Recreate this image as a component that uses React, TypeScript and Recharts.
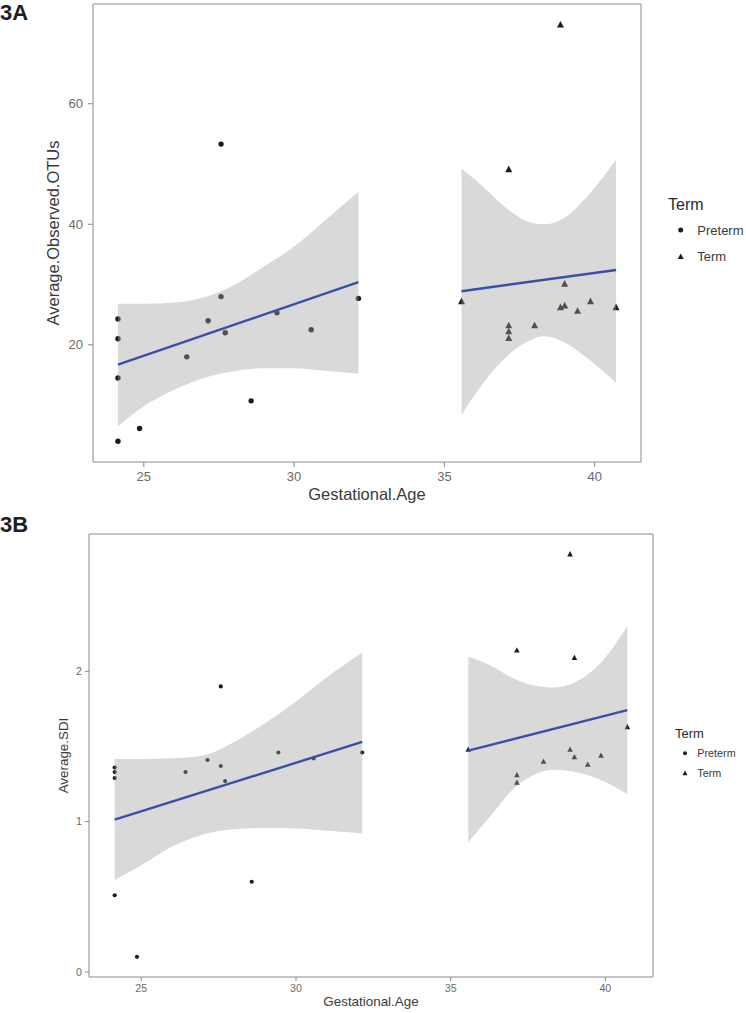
import React from 'react';
import { ComposedChart, XAxis, YAxis, Scatter, Area, Line, ReferenceArea } from 'recharts';

// gestational age (weeks) of each infant, same order in both panels
const pretermAge = [24.14, 24.14, 24.14, 24.14, 24.86, 26.43, 27.14, 27.57, 27.57, 27.71, 28.57, 29.43, 30.57, 32.14];
const pretermOtus = [24.3, 21.0, 14.5, 4.0, 6.1, 18.0, 24.0, 28.0, 53.3, 22.0, 10.7, 25.3, 22.5, 27.7];
const pretermSdi = [1.36, 1.33, 1.29, 0.51, 0.1, 1.33, 1.41, 1.37, 1.9, 1.27, 0.6, 1.46, 1.42, 1.46];

const termAgeA = [38.86, 37.14, 35.57, 39.0, 38.86, 39.0, 39.43, 39.86, 40.71, 38.0, 37.14, 37.14, 37.14];
const termOtus = [73.1, 49.1, 27.2, 30.1, 26.2, 26.5, 25.6, 27.2, 26.2, 23.2, 23.2, 22.2, 21.1];
const termAgeB = [38.86, 37.14, 39.0, 40.71, 35.57, 38.86, 39.0, 39.86, 39.43, 38.0, 37.14, 37.14];
const termSdi = [2.78, 2.14, 2.09, 1.63, 1.48, 1.48, 1.43, 1.44, 1.38, 1.4, 1.31, 1.26];

// lm fits (ends of the blue lines) and their 95% bands
const pretermFitAge = [24.14, 32.14];
const pretermFitOtus = [16.7, 30.4];
const pretermFitSdi = [1.013, 1.53];
const termFitAge = [35.57, 40.71];
const termFitOtus = [28.9, 32.4];
const termFitSdi = [1.472, 1.742];

const pretermBandAge = [24.14, 25, 26, 27, 28, 29, 30, 31, 32.14];
const pretermOtusLow = [6.5, 9.8, 12.5, 14.5, 15.6, 16.1, 16.1, 15.7, 15.2];
const pretermOtusHigh = [26.8, 26.8, 27.0, 27.9, 29.9, 33.0, 36.3, 40.5, 45.4];
const pretermSdiLow = [0.612, 0.71, 0.835, 0.915, 0.95, 0.958, 0.955, 0.94, 0.922];
const pretermSdiHigh = [1.417, 1.417, 1.421, 1.44, 1.53, 1.655, 1.8, 1.96, 2.125];

const termBandAge = [35.57, 36.3, 37.08, 37.75, 38.3, 39.0, 39.8, 40.71];
const termOtusLow = [8.4, 13.7, 18.1, 20.5, 21.4, 20.4, 17.6, 13.7];
const termOtusHigh = [49.2, 46.2, 42.6, 40.5, 40.0, 41.1, 44.9, 50.7];
const termSdiLow = [0.862, 1.04, 1.228, 1.317, 1.346, 1.332, 1.282, 1.184];
const termSdiHigh = [2.098, 2.037, 1.948, 1.904, 1.892, 1.926, 2.045, 2.302];

const AGE_TICKS = [25, 30, 35, 40];
const OTU_TICKS = [20, 40, 60];
const SDI_TICKS = [0, 1, 2];
const AGE_DOMAIN: [number, number] = [23.31, 41.54];
const OTU_DOMAIN: [number, number] = [0.55, 76.55];
const SDI_DOMAIN: [number, number] = [-0.034, 2.914];

const FONT = '"Liberation Sans", Arial, Helvetica, sans-serif';
const FRAME = '#8a8a8a';
const TICK_TEXT = '#6a6a6a';
const TITLE_TEXT = '#3a3a3a';
const FIT = '#3a50a8';
const POINT = '#1c1c1c';

const zip = (xs: number[], ys: number[]) => xs.map((x, i) => ({ x, y: ys[i] }));
const band = (xs: number[], lo: number[], hi: number[]) => xs.map((x, i) => ({ x, band: [lo[i], hi[i]] }));

const circleShape = (r: number) => (p: any) => <circle cx={p.cx} cy={p.cy} r={r} fill={POINT} />;
const triangleShape = (s: number) => (p: any) => (
  <polygon
    points={`${p.cx},${p.cy - s * 0.55} ${p.cx - s / 2},${p.cy + s * 0.4} ${p.cx + s / 2},${p.cy + s * 0.4}`}
    fill={POINT}
  />
);

function Panel(props: any) {
  const c = props;
  return (
    <ComposedChart width={746} height={c.height} margin={c.margin}>
      <XAxis
        type="number"
        dataKey="x"
        domain={AGE_DOMAIN}
        ticks={AGE_TICKS}
        allowDataOverflow
        axisLine={false}
        tickLine={{ stroke: FRAME }}
        tickSize={c.tickSize}
        tickMargin={c.tickMargin}
        tick={{ fontSize: c.tickFont, fill: TICK_TEXT }}
        height={c.xAxisHeight}
        label={{ value: 'Gestational.Age', position: 'insideBottom', offset: c.xTitleOffset, fontSize: c.titleFont, fill: TITLE_TEXT }}
      />
      <YAxis
        type="number"
        domain={c.yDomain}
        ticks={c.yTicks}
        allowDataOverflow
        axisLine={false}
        tickLine={{ stroke: FRAME }}
        tickSize={c.tickSize}
        tickMargin={c.tickMargin}
        tick={{ fontSize: c.tickFont, fill: TICK_TEXT }}
        width={c.yAxisWidth}
        label={{
          value: c.yTitle,
          angle: -90,
          position: 'insideLeft',
          offset: c.yTitleOffset,
          fontSize: c.titleFont,
          fill: TITLE_TEXT,
          style: { textAnchor: 'middle' },
        }}
      />
      <Scatter data={c.pre} dataKey="y" shape={circleShape(c.dotR)} isAnimationActive={false} zIndex={100} />
      <Scatter data={c.term} dataKey="y" shape={triangleShape(c.triS)} isAnimationActive={false} zIndex={100} />
      <Area data={c.preBand} dataKey="band" type="monotone" stroke="none" fill="#a0a0a0" fillOpacity={0.4} isAnimationActive={false} zIndex={200} />
      <Area data={c.termBand} dataKey="band" type="monotone" stroke="none" fill="#a0a0a0" fillOpacity={0.4} isAnimationActive={false} zIndex={200} />
      <Line data={c.preFit} dataKey="y" stroke={FIT} strokeWidth={c.lineW} dot={false} isAnimationActive={false} zIndex={300} />
      <Line data={c.termFit} dataKey="y" stroke={FIT} strokeWidth={c.lineW} dot={false} isAnimationActive={false} zIndex={300} />
      <ReferenceArea
        x1={AGE_DOMAIN[0]}
        x2={AGE_DOMAIN[1]}
        y1={c.yDomain[0]}
        y2={c.yDomain[1]}
        fill="none"
        stroke={FRAME}
        strokeWidth={1}
        ifOverflow="visible"
        zIndex={400}
      />
    </ComposedChart>
  );
}

function TermLegend(props: any) {
  const c = props;
  return (
    <svg width={106} height={100} style={{ position: 'absolute', left: 640, top: c.top }}>
      <text x={c.titleX} y={c.titleY} fontSize={c.titleFont} fill="#2a2a2a" fontFamily={FONT}>Term</text>
      <circle cx={c.iconX} cy={c.row1} r={c.dotR} fill={POINT} />
      <text x={57.3} y={c.row1} fontSize={c.labelFont} fill="#3a3a3a" fontFamily={FONT} dominantBaseline="central">Preterm</text>
      {triangleShape(c.triS)({ cx: c.iconX, cy: c.row2 })}
      <text x={57.3} y={c.row2} fontSize={c.labelFont} fill="#3a3a3a" fontFamily={FONT} dominantBaseline="central">Term</text>
    </svg>
  );
}

const panelLabel: React.CSSProperties = {
  position: 'absolute',
  left: 0,
  fontFamily: FONT,
  fontWeight: 'bold',
  fontSize: 22,
  lineHeight: '22px',
  color: '#1e1e1e',
};

export default function App() {
  return (
    <div style={{ position: 'absolute', left: 0, top: 0, width: 746, height: 1013, background: '#fff', fontFamily: FONT }}>
      <div style={{ position: 'absolute', left: 0, top: 0 }}>
        <Panel
          height={510}
          margin={{ top: 4, right: 105, bottom: 0, left: 0 }}
          yAxisWidth={93}
          xAxisHeight={48}
          yDomain={OTU_DOMAIN}
          yTicks={OTU_TICKS}
          yTitle="Average.Observed.OTUs"
          tickSize={5}
          tickMargin={5}
          tickFont={13}
          titleFont={16.5}
          xTitleOffset={10}
          yTitleOffset={53}
          dotR={2.7}
          triS={7}
          lineW={2.5}
          pre={zip(pretermAge, pretermOtus)}
          term={zip(termAgeA, termOtus)}
          preBand={band(pretermBandAge, pretermOtusLow, pretermOtusHigh)}
          termBand={band(termBandAge, termOtusLow, termOtusHigh)}
          preFit={zip(pretermFitAge, pretermFitOtus)}
          termFit={zip(termFitAge, termFitOtus)}
        />
      </div>
      <div style={{ position: 'absolute', left: 0, top: 530 }}>
        <Panel
          height={483}
          margin={{ top: 4, right: 93, bottom: 0, left: 0 }}
          yAxisWidth={89}
          xAxisHeight={36}
          yDomain={SDI_DOMAIN}
          yTicks={SDI_TICKS}
          yTitle="Average.SDI"
          tickSize={4}
          tickMargin={3}
          tickFont={10.7}
          titleFont={13.4}
          xTitleOffset={6.7}
          yTitleOffset={63}
          dotR={2.1}
          triS={5.6}
          lineW={2.4}
          pre={zip(pretermAge, pretermSdi)}
          term={zip(termAgeB, termSdi)}
          preBand={band(pretermBandAge, pretermSdiLow, pretermSdiHigh)}
          termBand={band(termBandAge, termSdiLow, termSdiHigh)}
          preFit={zip(pretermFitAge, pretermFitSdi)}
          termFit={zip(termFitAge, termFitSdi)}
        />
      </div>
      <div style={{ ...panelLabel, top: 2 }}>3A</div>
      <div style={{ ...panelLabel, top: 514 }}>3B</div>
      <TermLegend top={180} titleX={28} titleY={30} titleFont={16} iconX={40.7} row1={50} row2={76.7} dotR={2.5} triS={6} labelFont={13} />
      <TermLegend top={720} titleX={35} titleY={18} titleFont={13} iconX={45} row1={33.3} row2={53.3} dotR={2} triS={5} labelFont={10.8} />
    </div>
  );
}
